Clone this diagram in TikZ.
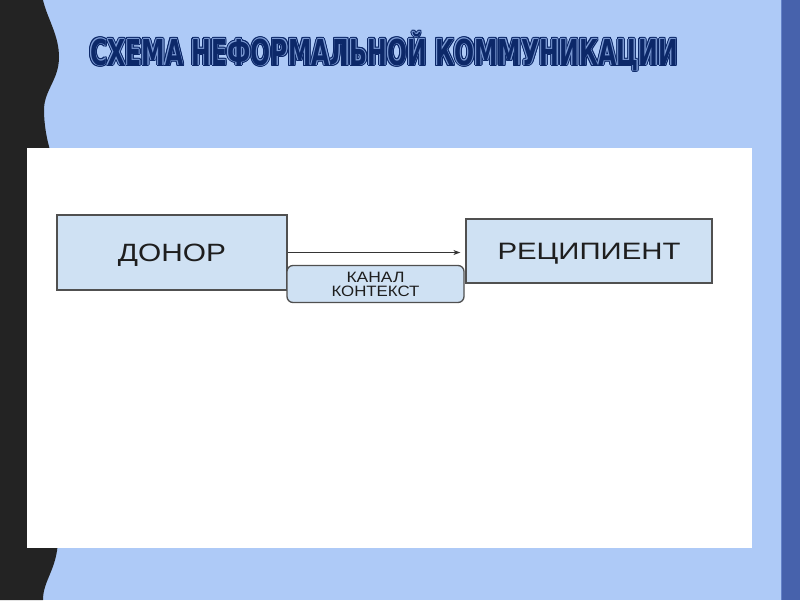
\documentclass[tikz,border=0pt]{standalone}
\usepackage{fontspec}
\setmainfont{Liberation Sans}
\newfontfamily\titlefont{DejaVu Sans}
\usetikzlibrary{arrows.meta}
\definecolor{bgblue}{RGB}{174,202,247}
\definecolor{darkstrip}{RGB}{35,35,35}
\definecolor{stripblue}{RGB}{71,98,172}
\definecolor{stripline}{RGB}{100,130,200}
\definecolor{boxfill}{RGB}{207,225,243}
\definecolor{boxline}{RGB}{80,80,80}
\definecolor{navy}{RGB}{12,40,105}
\definecolor{titlelight}{RGB}{125,155,212}
\definecolor{txt}{RGB}{30,30,30}
\newcommand{\ttltext}{\resizebox{588pt}{\height}{\fontsize{35.7pt}{36pt}\titlefont\bfseries СХЕМА НЕФОРМАЛЬНОЙ КОММУНИКАЦИИ}}
\newcommand{\fitw}[2]{\resizebox{#1}{\height}{#2}}
\tikzset{
  titletxt/.style={anchor=base west, inner sep=0pt, outer sep=0pt},
  diagbox/.style={draw=boxline, fill=boxfill, line width=1.3pt, inner sep=0pt, text=txt},
  flow/.style={draw=txt!90, line width=0.9pt, -{Stealth[length=7pt,width=5pt]}}
}
\begin{document}
\begin{tikzpicture}[x=1pt,y=-1pt]
\useasboundingbox (0,0) rectangle (800,600);
% background
\fill[bgblue] (0,0) rectangle (800,600);
% dark wavy strip
\fill[darkstrip] (0,0) -- (43,0)
  .. controls (47,18) and (59,35) .. (59,57)
  .. controls (59,80) and (44,90) .. (44,110)
  .. controls (44,125) and (47,140) .. (50,150)
  -- (58,540)
  .. controls (57,570) and (43,580) .. (43,600)
  -- (0,600) -- cycle;
% right strip
\fill[stripblue] (781,0) rectangle (800,600);
\draw[stripline, line width=1pt] (781.5,0) -- (781.5,600);
% white panel
\fill[white] (27,148) rectangle (752,548);
% title with inline effect
\foreach \a [count=\k] in {0,22.5,...,337.5}
  \node[titletxt, text=navy] (ta\k) at ([shift={(\a:1.7)}]90,65) {\ttltext};
\foreach \a [count=\k] in {0,45,...,315}
  \node[titletxt, text=titlelight] (tb\k) at ([shift={(\a:0.7)}]90,65) {\ttltext};
\node[titletxt, text=navy] (title) at (90,65) {\ttltext};
% diagram
\node[diagbox, minimum width=230pt, minimum height=75pt, text height=18pt, text depth=0pt] (donor) at (172,252.5)
  {\fitw{108pt}{\fontsize{25pt}{25pt}\selectfont ДОНОР}};
\node[diagbox, minimum width=246pt, minimum height=64pt, text height=17pt, text depth=0pt] (recip) at (589,251)
  {\fitw{183pt}{\fontsize{23.7pt}{24pt}\selectfont РЕЦИПИЕНТ}};
\node[diagbox, rounded corners=6pt, minimum width=177pt, minimum height=37pt, align=center,
  font=\fontsize{15pt}{14pt}\selectfont] (kanal) at (375.5,284)
  {\fitw{58pt}{КАНАЛ}\\\fitw{88pt}{КОНТЕКСТ}};
\draw[flow, shorten >=5pt] (donor.east) -- (donor.east -| recip.west);
\end{tikzpicture}
\end{document}
